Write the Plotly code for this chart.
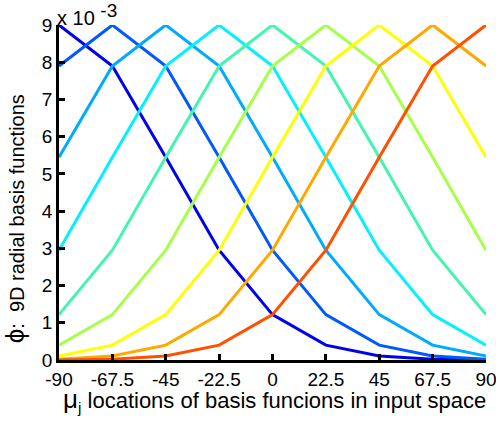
import plotly.graph_objects as go

# Basis function centres (degrees) and sample locations
x_locations = [-90, -67.5, -45, -22.5, 0, 22.5, 45, 67.5, 90]
x_tick_labels = ["-90", "-67.5", "-45", "-22.5", "0", "22.5", "45", "67.5", "90"]

# Radial basis function responses (units of 1e-3), one list per basis function
phi_c1 = [9.00, 7.90, 5.45, 2.95, 1.22, 0.40, 0.11, 0.02, 0.00]
phi_c2 = [7.90, 9.00, 7.90, 5.45, 2.95, 1.22, 0.40, 0.11, 0.02]
phi_c3 = [5.45, 7.90, 9.00, 7.90, 5.45, 2.95, 1.22, 0.40, 0.11]
phi_c4 = [2.95, 5.45, 7.90, 9.00, 7.90, 5.45, 2.95, 1.22, 0.40]
phi_c5 = [1.22, 2.95, 5.45, 7.90, 9.00, 7.90, 5.45, 2.95, 1.22]
phi_c6 = [0.40, 1.22, 2.95, 5.45, 7.90, 9.00, 7.90, 5.45, 2.95]
phi_c7 = [0.11, 0.40, 1.22, 2.95, 5.45, 7.90, 9.00, 7.90, 5.45]
phi_c8 = [0.02, 0.11, 0.40, 1.22, 2.95, 5.45, 7.90, 9.00, 7.90]
phi_c9 = [0.00, 0.02, 0.11, 0.40, 1.22, 2.95, 5.45, 7.90, 9.00]

series = [phi_c1, phi_c2, phi_c3, phi_c4, phi_c5, phi_c6, phi_c7, phi_c8, phi_c9]
colors = ["#0000EE", "#0058FF", "#00AAFF", "#00F2FF", "#44F5B0",
          "#A6FF48", "#FFFF00", "#FFA800", "#FF5000"]

y_ticks = list(range(0, 10))

fig = go.Figure()
for vals, col in zip(series, colors):
    fig.add_trace(go.Scatter(
        x=x_locations, y=vals, mode="lines",
        line=dict(color=col, width=3), showlegend=False, hoverinfo="skip"))

font_family = "Liberation Sans, Arial, sans-serif"

fig.update_layout(
    width=496, height=421,
    margin=dict(l=59, r=10, t=25, b=61, autoexpand=False),
    paper_bgcolor="white", plot_bgcolor="white",
    font=dict(family=font_family, color="black", size=18),
    xaxis=dict(
        range=[-90, 90], tickvals=x_locations, ticktext=x_tick_labels,
        showgrid=False, zeroline=False, showline=True, linecolor="black",
        linewidth=2.5, ticks="inside", ticklen=6, tickwidth=2.5, tickcolor="black",
        tickfont=dict(size=19), ticklabeloverflow="allow", automargin=False,
        fixedrange=True),
    yaxis=dict(
        range=[0, 9], tickvals=y_ticks, ticktext=[str(v) for v in y_ticks],
        showgrid=False, zeroline=False, showline=True, linecolor="black",
        linewidth=2.5, ticks="inside", ticklen=6, tickwidth=2.5, tickcolor="black",
        tickfont=dict(size=19), ticklabeloverflow="allow", automargin=False,
        fixedrange=True),
    annotations=[
        dict(text="x 10 <sup><span style='font-size:19px'>-3</span></sup>",
             xref="paper", yref="paper",
             x=-0.01, y=1.0, xanchor="left", yanchor="bottom", showarrow=False,
             font=dict(size=20), yshift=-6),
        dict(text="<span style='font-size:26px'>μ</span><sub>j</sub> locations of basis funcions in input space",
             xref="paper", yref="paper", x=0.505, y=0, xanchor="center", yanchor="top",
             yshift=-22, showarrow=False, font=dict(size=22)),
        dict(text="<span style='font-size:26px'>ϕ</span>:  9D radial basis functions",
             xref="paper", yref="paper", x=0, y=0.42, xanchor="right", yanchor="middle",
             xshift=-27, textangle=-90, showarrow=False, font=dict(size=20)),
    ],
)

fig.write_html("out.html")
